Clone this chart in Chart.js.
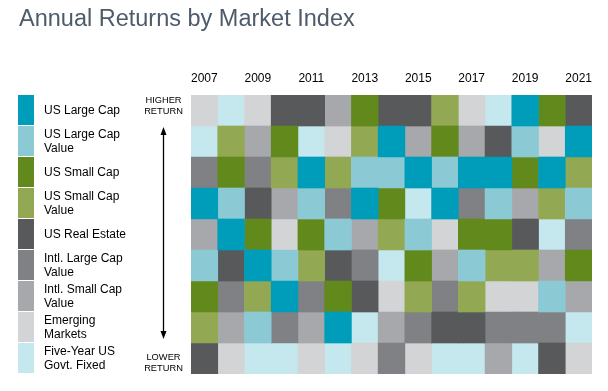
<!DOCTYPE html>
<html>
<head>
<meta charset="utf-8">
<title>Annual Returns by Market Index</title>
<script src="https://cdn.jsdelivr.net/npm/chart.js@4.4.0/dist/chart.umd.min.js"></script>
<style>
  html, body { margin: 0; padding: 0; background: #fff; }
  #wrap { position: relative; width: 608px; height: 391px; }
</style>
</head>
<body>
<div id="wrap"><canvas id="chart" width="608" height="391"></canvas></div>
<script>
var years = ['2007', '2008', '2009', '2010', '2011', '2012', '2013', '2014',
             '2015', '2016', '2017', '2018', '2019', '2020', '2021'];

var assetNames = [
    ['US Large Cap'],
    ['US Large Cap', 'Value'],
    ['US Small Cap'],
    ['US Small Cap', 'Value'],
    ['US Real Estate'],
    ['Intl. Large Cap', 'Value'],
    ['Intl. Small Cap', 'Value'],
    ['Emerging', 'Markets'],
    ['Five-Year US', 'Govt. Fixed']
];

var assetColors = ['#009dba', '#8bc9d4', '#62891c', '#93a853', '#58595b',
                   '#808184', '#a7a8ab', '#d3d4d6', '#c5e8ee'];

// rank of each index in each year, 1 = highest return
var rankLargeCap      = [4, 5, 6, 7, 3, 8, 4, 2, 3, 4, 3, 3, 1, 3, 2];
var rankLargeCapValue = [6, 4, 8, 6, 4, 5, 3, 3, 5, 3, 6, 4, 2, 7, 4];
var rankSmallCap      = [7, 3, 5, 2, 5, 7, 1, 4, 6, 2, 5, 5, 3, 1, 6];
var rankSmallCapValue = [8, 2, 7, 3, 6, 3, 2, 5, 7, 1, 7, 6, 6, 4, 3];
var rankRealEstate    = [9, 6, 4, 1, 1, 6, 7, 1, 1, 8, 8, 2, 5, 9, 1];
var rankIntlLargeVal  = [3, 7, 3, 8, 7, 4, 6, 9, 8, 7, 4, 8, 8, 8, 5];
var rankIntlSmallVal  = [5, 8, 2, 4, 8, 1, 5, 8, 2, 6, 2, 9, 4, 6, 7];
var rankEmerging      = [1, 9, 1, 5, 9, 2, 9, 7, 9, 5, 1, 7, 7, 2, 9];
var rankFiveYearGovt  = [2, 1, 9, 9, 2, 9, 8, 6, 4, 9, 9, 1, 9, 5, 8];

var allRanks = [rankLargeCap, rankLargeCapValue, rankSmallCap, rankSmallCapValue,
                rankRealEstate, rankIntlLargeVal, rankIntlSmallVal, rankEmerging,
                rankFiveYearGovt];

var datasets = allRanks.map(function (ranks, i) {
    return {
        label: assetNames[i].join(' '),
        data: ranks.map(function (r) { return [r - 0.5, r + 0.5]; }),
        backgroundColor: assetColors[i],
        borderWidth: 0,
        grouped: false,
        barPercentage: 1,
        categoryPercentage: 1
    };
});

var FONT = '"Liberation Sans", Arial, sans-serif';

// title, legend swatches and the higher/lower arrow
var sidePanel = {
    id: 'sidePanel',
    afterDraw: function (chart) {
        var c = chart.ctx;
        var y = chart.scales.y;
        c.save();

        c.fillStyle = '#4e5b6a';
        c.font = '23.5px ' + FONT;
        c.textAlign = 'left';
        c.textBaseline = 'alphabetic';
        c.fillText('Annual Returns by Market Index', 19, 26);

        assetNames.forEach(function (lines, i) {
            var top = y.getPixelForValue(i + 0.5);
            var bottom = y.getPixelForValue(i + 1.5);
            c.fillStyle = assetColors[i];
            c.fillRect(18, top, 16, bottom - top - 1);

            var mid = (top + bottom) / 2;
            c.fillStyle = '#000';
            c.font = '12px ' + FONT;
            c.textBaseline = 'middle';
            var lh = 14;
            lines.forEach(function (t, k) {
                c.fillText(t, 44, mid + (k - (lines.length - 1) / 2) * lh);
            });
        });

        var ax = 163.5;
        c.fillStyle = '#000';
        c.font = '9.3px ' + FONT;
        c.textAlign = 'center';
        c.fillText('HIGHER', ax, 100);
        c.fillText('RETURN', ax, 111);
        c.fillText('LOWER', ax, 357);
        c.fillText('RETURN', ax, 368);

        c.strokeStyle = '#000';
        c.lineWidth = 1.3;
        c.beginPath();
        c.moveTo(ax, 133);
        c.lineTo(ax, 333);
        c.stroke();
        c.beginPath();
        c.moveTo(ax, 127);
        c.lineTo(ax - 3, 135);
        c.lineTo(ax + 3, 135);
        c.closePath();
        c.fill();
        c.beginPath();
        c.moveTo(ax, 339);
        c.lineTo(ax - 3, 331);
        c.lineTo(ax + 3, 331);
        c.closePath();
        c.fill();

        c.restore();
    }
};

new Chart(document.getElementById('chart'), {
    type: 'bar',
    data: { labels: years, datasets: datasets },
    options: {
        responsive: false,
        animation: false,
        layout: { padding: { left: 191, right: 16, top: 0, bottom: 17 } },
        plugins: {
            legend: { display: false },
            tooltip: { enabled: false }
        },
        scales: {
            x: {
                position: 'top',
                grid: { display: false, drawTicks: false },
                border: { display: false },
                ticks: {
                    autoSkip: false,
                    maxRotation: 0,
                    padding: 9,
                    color: '#000',
                    font: { family: FONT, size: 12 },
                    callback: function (v, i) { return i % 2 === 0 ? years[i] : ''; }
                },
                afterFit: function (s) { s.height = 95; }
            },
            y: {
                display: false,
                reverse: true,
                min: 0.5,
                max: 9.5
            }
        }
    },
    plugins: [sidePanel]
});
</script>
</body>
</html>
